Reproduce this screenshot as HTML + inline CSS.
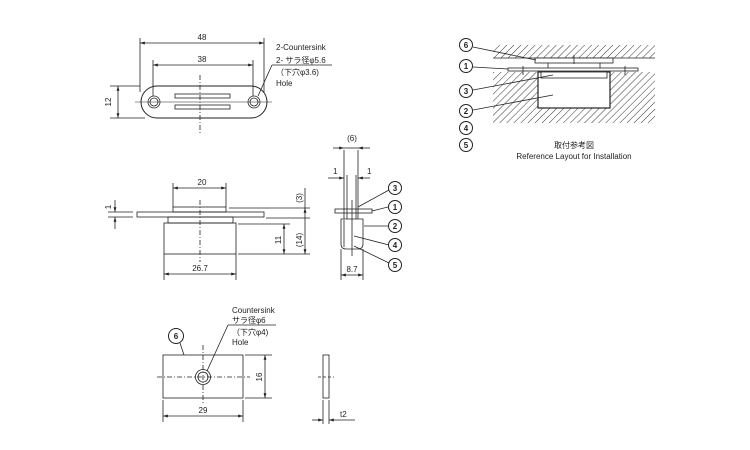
<!DOCTYPE html>
<html><head><meta charset="utf-8"><style>
body{margin:0;background:#fff}
svg{display:block}
text{font-family:"Liberation Sans","Noto Sans CJK JP",sans-serif;font-size:8px;fill:#222}
</style></head><body>
<svg width="750" height="450" viewBox="0 0 750 450" xmlns="http://www.w3.org/2000/svg">
<defs>
<pattern id="h" width="5" height="5" patternUnits="userSpaceOnUse" patternTransform="rotate(45)">
<line x1="0" y1="0" x2="0" y2="5" stroke="#333" stroke-width="1"/></pattern>
<marker id="a" viewBox="0 0 10 10" refX="10" refY="5" markerWidth="6" markerHeight="6" orient="auto-start-reverse"><path d="M0,2L10,5L0,8z" fill="#222"/></marker>
</defs>
<g stroke="#222" stroke-width="0.8" fill="none">
<!-- top view -->
<rect x="141" y="86" width="126" height="32" rx="16" stroke-width="1"/>
<circle cx="154" cy="102" r="6"/><circle cx="154" cy="102" r="4"/>
<circle cx="254" cy="102" r="6"/><circle cx="254" cy="102" r="4"/>
<rect x="175" y="94" width="55" height="4"/><rect x="175" y="105" width="55" height="4"/>
<line x1="200" y1="75" x2="200" y2="135" stroke-dasharray="5,2,1,2"/>
<line x1="135" y1="102" x2="272" y2="102" stroke-width="0.6"/>
<line x1="140" y1="38" x2="140" y2="92"/><line x1="264" y1="38" x2="264" y2="92"/>
<line x1="140" y1="43" x2="264" y2="43" marker-start="url(#a)" marker-end="url(#a)"/>
<line x1="153" y1="60" x2="153" y2="96"/><line x1="253" y1="60" x2="253" y2="96"/>
<line x1="153" y1="65" x2="253" y2="65" marker-start="url(#a)" marker-end="url(#a)"/>
<line x1="110" y1="86" x2="140" y2="86"/><line x1="110" y1="118" x2="145" y2="118"/>
<line x1="118" y1="86" x2="118" y2="118" marker-start="url(#a)" marker-end="url(#a)"/>
<line x1="272" y1="65" x2="332" y2="65"/><line x1="272" y1="65" x2="258" y2="96"/>
<!-- side view -->
<rect x="137" y="212" width="127" height="5"/>
<rect x="173" y="207" width="53" height="5"/>
<rect x="168" y="217" width="65" height="6"/>
<rect x="164" y="223" width="72" height="31"/>
<line x1="200" y1="200" x2="200" y2="262" stroke-dasharray="5,2,1,2"/>
<line x1="173" y1="183" x2="173" y2="207"/><line x1="226" y1="183" x2="226" y2="207"/>
<line x1="173" y1="188" x2="226" y2="188" marker-start="url(#a)" marker-end="url(#a)"/>
<line x1="164" y1="254" x2="164" y2="280"/><line x1="236" y1="254" x2="236" y2="280"/>
<line x1="164" y1="274" x2="236" y2="274" marker-start="url(#a)" marker-end="url(#a)"/>
<line x1="229" y1="208" x2="310" y2="208"/><line x1="266" y1="218" x2="310" y2="218"/>
<line x1="238" y1="224" x2="290" y2="224"/><line x1="238" y1="254" x2="310" y2="254"/>
<line x1="305" y1="188" x2="305" y2="208"/>
<line x1="305" y1="208" x2="305" y2="254" marker-start="url(#a)" marker-end="url(#a)"/>
<line x1="284" y1="224" x2="284" y2="254" marker-start="url(#a)" marker-end="url(#a)"/>
<line x1="108" y1="212" x2="133" y2="212"/><line x1="108" y1="217" x2="133" y2="217"/>
<line x1="115" y1="200" x2="115" y2="212" marker-end="url(#a)"/><line x1="115" y1="229" x2="115" y2="217" marker-end="url(#a)"/>
<!-- small end view -->
<path d="M341,219 H363 V244 Q363,249 358,249 H346 Q341,249 341,244 Z"/>
<line x1="344" y1="220" x2="344" y2="247"/>
<rect x="335" y="209" width="37" height="4"/>
<line x1="344" y1="150" x2="344" y2="219"/><line x1="347" y1="175" x2="347" y2="219"/>
<line x1="356" y1="175" x2="356" y2="219"/><line x1="358" y1="150" x2="358" y2="219"/>
<line x1="352" y1="200" x2="352" y2="256"/>
<line x1="333" y1="148" x2="344" y2="148" marker-end="url(#a)"/><line x1="370" y1="148" x2="358" y2="148" marker-end="url(#a)"/>
<line x1="344" y1="148" x2="358" y2="148"/>
<line x1="328" y1="178" x2="344" y2="178" marker-end="url(#a)"/><line x1="370" y1="178" x2="358" y2="178" marker-end="url(#a)"/>
<line x1="341" y1="249" x2="341" y2="280"/><line x1="363" y1="249" x2="363" y2="280"/>
<line x1="341" y1="275" x2="363" y2="275" marker-start="url(#a)" marker-end="url(#a)"/>
<line x1="358" y1="207" x2="389" y2="190"/><line x1="372" y1="211" x2="388" y2="207"/>
<line x1="364" y1="226" x2="388" y2="226"/><line x1="354" y1="236" x2="389" y2="245"/>
<line x1="354" y1="246" x2="389" y2="263"/>
<circle cx="395" cy="188" r="6.5" stroke-width="1"/><circle cx="395" cy="207" r="6.5" stroke-width="1"/>
<circle cx="395" cy="226" r="6.5" stroke-width="1"/><circle cx="395" cy="245" r="6.5" stroke-width="1"/>
<circle cx="395" cy="265" r="6.5" stroke-width="1"/>
<!-- install -->
<rect x="493" y="45" width="162" height="13" fill="url(#h)" stroke="none"/>
<path d="M493,72H655V123H493Z M538,72V108H610V72Z" fill="url(#h)" fill-rule="evenodd" stroke="none"/>
<rect x="538" y="72" width="72" height="36" fill="#fff" stroke-width="1.2"/>
<rect x="541" y="72" width="66" height="6" fill="#fff"/>
<line x1="493" y1="58" x2="655" y2="58"/>
<rect x="535" y="58" width="78" height="5" fill="#fff"/>
<line x1="548" y1="63" x2="548" y2="68"/><line x1="600" y1="63" x2="600" y2="68"/>
<rect x="508" y="68" width="130" height="3" fill="#fff"/>
<line x1="523" y1="66" x2="523" y2="75"/><line x1="625" y1="66" x2="625" y2="75"/>
<line x1="574" y1="55" x2="574" y2="64"/>
<line x1="473" y1="47" x2="536" y2="60"/><line x1="473" y1="67" x2="508" y2="69"/>
<line x1="473" y1="90" x2="553" y2="75"/><line x1="473" y1="110" x2="553" y2="95"/>
<circle cx="466" cy="45" r="6.5" stroke-width="1"/><circle cx="466" cy="66" r="6.5" stroke-width="1"/>
<circle cx="466" cy="91" r="6.5" stroke-width="1"/><circle cx="466" cy="111" r="6.5" stroke-width="1"/>
<circle cx="466" cy="128" r="6.5" stroke-width="1"/><circle cx="466" cy="145" r="6.5" stroke-width="1"/>
<!-- plate 6 -->
<rect x="163" y="355" width="80" height="43"/>
<circle cx="203" cy="377" r="7.5"/><circle cx="203" cy="377" r="5"/>
<line x1="203" y1="345" x2="203" y2="405" stroke-dasharray="5,2,1,2"/>
<line x1="157" y1="377" x2="250" y2="377" stroke-dasharray="5,2,1,2"/>
<line x1="245" y1="355" x2="272" y2="355"/><line x1="245" y1="398" x2="272" y2="398"/>
<line x1="265" y1="355" x2="265" y2="398" marker-start="url(#a)" marker-end="url(#a)"/>
<line x1="163" y1="400" x2="163" y2="422"/><line x1="243" y1="400" x2="243" y2="422"/>
<line x1="163" y1="416" x2="243" y2="416" marker-start="url(#a)" marker-end="url(#a)"/>
<line x1="228" y1="325" x2="276" y2="325"/><line x1="228" y1="325" x2="207" y2="371"/>
<line x1="180" y1="343" x2="184" y2="355"/>
<circle cx="176" cy="336" r="7.5" stroke-width="1"/>
<rect x="323" y="355" width="6" height="43"/>
<line x1="318" y1="377" x2="334" y2="377" stroke-dasharray="3,2"/>
<line x1="323" y1="400" x2="323" y2="424"/><line x1="329" y1="400" x2="329" y2="424"/>
<line x1="312" y1="420" x2="323" y2="420" marker-end="url(#a)"/><line x1="355" y1="420" x2="329" y2="420" marker-end="url(#a)"/>
</g>
<text x="202" y="40" text-anchor="middle">48</text>
<text x="202" y="62" text-anchor="middle">38</text>
<text transform="translate(111,102) rotate(-90)" text-anchor="middle">12</text>
<text x="276" y="50">2-Countersink</text>
<text x="276" y="63">2- サラ径φ5.6</text>
<text x="276" y="75">（下穴φ3.6)</text>
<text x="276" y="86">Hole</text>
<text x="202" y="185" text-anchor="middle">20</text>
<text x="200" y="271" text-anchor="middle">26.7</text>
<text transform="translate(111,207) rotate(-90)" text-anchor="middle">1</text>
<text transform="translate(302,198) rotate(-90)" text-anchor="middle">(3)</text>
<text transform="translate(302,240) rotate(-90)" text-anchor="middle">(14)</text>
<text transform="translate(281,240) rotate(-90)" text-anchor="middle">11</text>
<text x="352" y="141" text-anchor="middle">(6)</text>
<text x="333" y="174">1</text><text x="367" y="174">1</text>
<text x="352" y="272" text-anchor="middle">8.7</text>
<g text-anchor="middle" font-size="9" style="font-weight:bold">
<text x="395" y="191">3</text><text x="395" y="210">1</text><text x="395" y="229">2</text><text x="395" y="248">4</text><text x="395" y="268">5</text>
<text x="466" y="48">6</text><text x="466" y="69">1</text><text x="466" y="94">3</text><text x="466" y="114">2</text><text x="466" y="131">4</text><text x="466" y="148">5</text>
<text x="176" y="339">6</text>
</g>
<text x="574" y="148" text-anchor="middle">取付参考図</text>
<text x="574" y="159" text-anchor="middle" font-size="7.5">Reference Layout for Installation</text>
<text x="232" y="313">Countersink</text>
<text x="232" y="323">サラ径φ6</text>
<text x="232" y="335">（下穴φ4)</text>
<text x="232" y="345">Hole</text>
<text transform="translate(262,377) rotate(-90)" text-anchor="middle">16</text>
<text x="203" y="413" text-anchor="middle">29</text>
<text x="340" y="417">t2</text>
</svg>
</body></html>
